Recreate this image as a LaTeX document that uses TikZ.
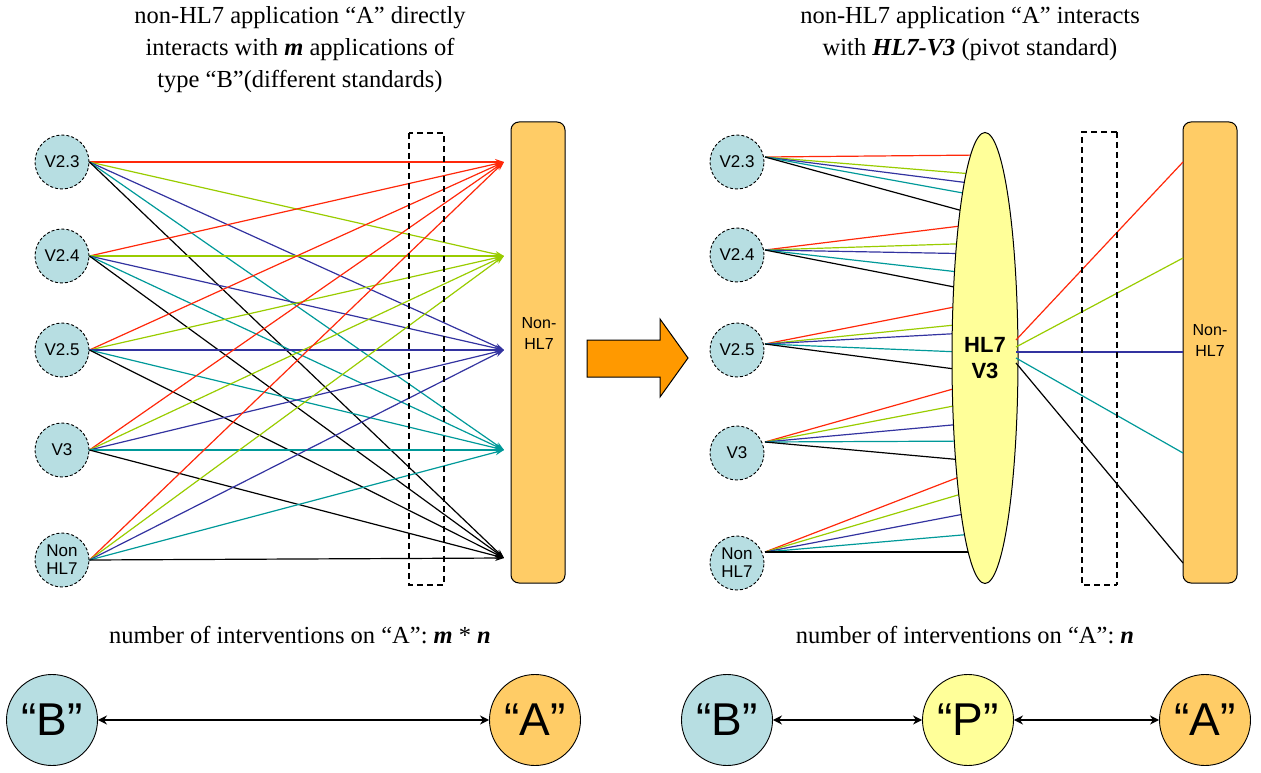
\documentclass[tikz,border=0pt]{standalone}
\usepackage{fontspec}
\setmainfont{Liberation Serif}
\setsansfont{Liberation Sans}
\usetikzlibrary{arrows.meta,backgrounds,shapes.geometric}
\definecolor{cball}{RGB}{183,222,226}
\definecolor{corange}{RGB}{255,204,102}
\definecolor{cbigarrow}{RGB}{255,153,0}
\definecolor{cyellow}{RGB}{255,255,153}
\definecolor{cred}{RGB}{255,40,10}
\definecolor{cgreen}{RGB}{153,204,0}
\definecolor{cbl}{RGB}{51,51,160}
\definecolor{cteal}{RGB}{0,153,153}
\begin{document}
\begin{tikzpicture}[x=1pt,y=-1pt,
  small/.style={circle, draw, densely dashed, line width=0.9pt, fill=cball, minimum size=54pt, inner sep=0pt, align=center, font=\sffamily\fontsize{17}{18}\selectfont},
  bigc/.style={circle, draw, line width=0.9pt, minimum size=91pt, inner sep=0pt, font=\sffamily\fontsize{46}{46}\selectfont},
  appbox/.style={draw, line width=1pt, rounded corners=8pt, fill=corange, minimum width=54pt, minimum height=461pt, inner sep=0pt},
  boxtext/.style={align=center, font=\sffamily\fontsize{16}{21}\selectfont},
  title/.style={align=center, font=\fontsize{24.5}{32}\selectfont},
  ln/.style={line width=1.2pt},
  arr/.style={ln, -{Stealth[length=9pt,width=6pt]}},
  dbox/.style={line width=2.6pt, dash pattern=on 6pt off 4pt},
  dthin/.style={line width=1.2pt, dash pattern=on 6pt off 4pt},
  dbl/.style={line width=2pt, {Stealth[length=9pt,width=9pt]}-{Stealth[length=9pt,width=9pt]}}
]
\useasboundingbox (0,0) rectangle (1261,773);

% ---------- titles ----------
\node[title] (tl) at (300,50) {non-HL7 application “A” directly\\interacts with \textbf{\textit{m}} applications of\\type “B”(different standards)};
\node[title] (tr) at (970,34) {non-HL7 application “A” interacts\\with \textbf{\textit{HL7-V3}} (pivot standard)};

% ---------- left diagram ----------
\node[small] (l1) at (62,162) {V2.3};
\node[small] (l2) at (62,256) {V2.4};
\node[small] (l3) at (62,350) {V2.5};
\node[small] (l4) at (62,450) {V3};
\node[small] (l5) at (62,560) {Non\\HL7};

\coordinate (t1) at (504,162);
\coordinate (t2) at (504,256);
\coordinate (t3) at (504,350);
\coordinate (t4) at (504,450);
\coordinate (t5) at (504,558);

\foreach \s in {l1,l2,l3,l4,l5}{
  \foreach \t/\c in {t1/cred,t2/cgreen,t3/cbl,t4/cteal,t5/black}{
    \draw[arr,\c] (\s.east) -- (\t);
  }
}

\draw[dbox] (409,133) rectangle (444,585);

\node[appbox] (nl) at (538,352.5) {};
\node[boxtext] (nlt) at (539,333) {Non-\\HL7};

% ---------- big arrow ----------
\draw[line width=1pt, fill=cbigarrow] (587,340) -- (660,340) -- (660,319) -- (688,358) -- (660,397) -- (660,377) -- (587,377) -- cycle;

% ---------- right diagram ----------
\node[small] (r1) at (737,162) {V2.3};
\node[small] (r2) at (737,255) {V2.4};
\node[small] (r3) at (737,350) {V2.5};
\node[small] (r4) at (737,453) {V3};
\node[small] (r5) at (737,563) {Non\\HL7};

\coordinate (r1o) at (765,157);
\coordinate (r2o) at (765,250);
\coordinate (r3o) at (765,344);
\coordinate (r4o) at (765,442);
\coordinate (r5o) at (765,552);

\node[ellipse, draw, line width=1pt, fill=cyellow, minimum width=66pt, minimum height=451pt, inner sep=0pt, align=center, font=\sffamily\bfseries\fontsize{22}{26}\selectfont] (hl) at (985,358) {HL7\\V3};

\begin{scope}[on background layer]
\foreach \s/\y/\c in {
  r1o/155/cred, r1o/175/cgreen, r1o/185/cbl, r1o/197/cteal, r1o/217/black,
  r2o/223/cred, r2o/243/cgreen, r2o/254/cbl, r2o/275/cteal, r2o/293/black,
  r3o/301/cred, r3o/322/cgreen, r3o/332/cbl, r3o/353/cteal, r3o/373/black,
  r4o/380/cred, r4o/400/cgreen, r4o/422/cbl, r4o/441/cteal, r4o/462/black,
  r5o/467/cred, r5o/487/cgreen, r5o/510/cbl, r5o/533/cteal, r5o/552/black}{
  \coordinate (hin) at (985,\y);
  \draw[ln,\c] (\s) -- (hin);
}
\end{scope}

\node[appbox] (nr) at (1210,352.5) {};
\node[boxtext] (nrt) at (1210,340) {Non-\\HL7};

\foreach \y/\ty/\c in {340/162/cred, 347/258/cgreen, 352/352/cbl, 358/453/cteal, 363/563/black}{
  \coordinate (fs) at (1016,\y);
  \coordinate (ft) at (1183,\ty);
  \draw[ln,\c] (fs) -- (ft);
}

\draw[dbox] (1117,132) -- (1082,132) -- (1082,585) -- (1117,585);
\draw[dthin] (1117,132) -- (1117,585);

% ---------- bottom ----------
\node[title] (bl) at (300,635) {number of interventions on “A”: \textbf{\textit{m}} * \textbf{\textit{n}}};
\node[title] (br) at (965,635) {number of interventions on “A”: \textbf{\textit{n}}};

\node[bigc, fill=cball] (bB) at (52,720) {“B”};
\node[bigc, fill=corange] (bA) at (535,720) {“A”};
\draw[dbl] (bB) -- (bA);

\node[bigc, fill=cball] (rB) at (727,720) {“B”};
\node[bigc, fill=cyellow] (rP) at (968,720) {“P”};
\node[bigc, fill=corange] (rA) at (1205,720) {“A”};
\draw[dbl] (rB) -- (rP);
\draw[dbl] (rP) -- (rA);
\end{tikzpicture}
\end{document}
